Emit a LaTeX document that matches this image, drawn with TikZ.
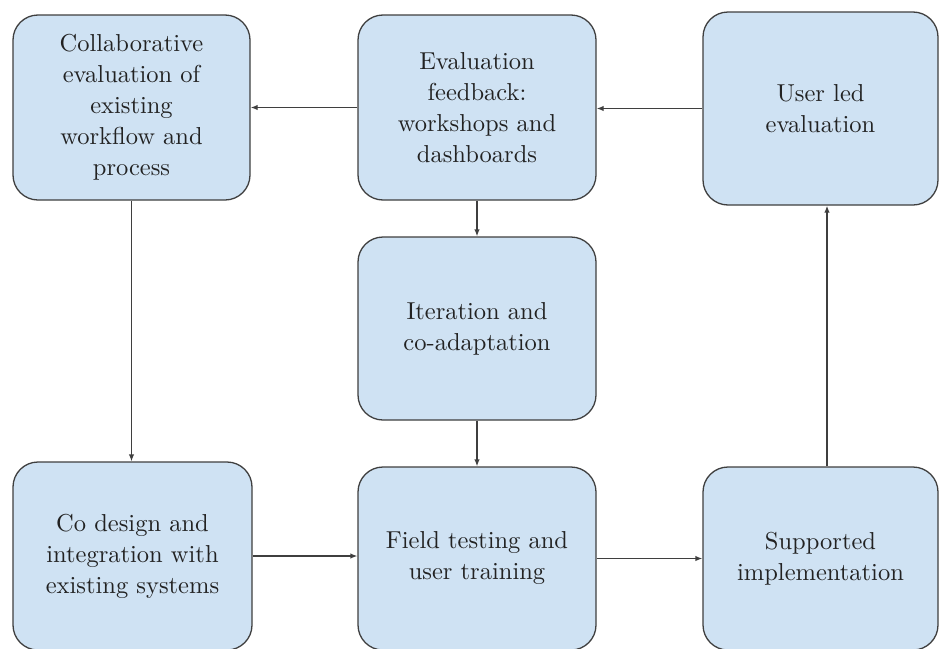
\documentclass[tikz,border=0pt]{standalone}
\usepackage{fontspec}
\setmainfont{lmroman10}[Extension=.otf, UprightFont=*-regular, BoldFont=*-bold]
\usetikzlibrary{arrows.meta}

\definecolor{boxfill}{HTML}{CFE2F3}
\definecolor{boxline}{HTML}{3F3F3F}
\definecolor{boxtext}{HTML}{222222}

\tikzset{
  stagebox/.style={rectangle, rounded corners=25pt, draw=boxline, line width=1.3pt,
    fill=boxfill, text=boxtext, align=center, inner sep=0pt,
    font=\rmfamily\fontsize{24.5}{31}\selectfont},
  flow/.style={draw=boxline, line width=1.3pt, -{Latex[length=7pt,width=5.5pt]}}
}

\begin{document}
\begin{tikzpicture}[x=1pt,y=-1pt]

\clip (0,0) rectangle (941,648);

% top row
\node[stagebox, minimum width=237pt, minimum height=185pt] (collab) at (131.5,107.5)
	{Collaborative\\evaluation of\\existing\\workflow and\\process};
\node[stagebox, minimum width=238pt, minimum height=185pt] (feedback) at (477,107.5)
	{Evaluation\\feedback:\\workshops and\\dashboards};
\node[stagebox, minimum width=235pt, minimum height=193pt] (userled) at (820.5,108.5)
	{User led\\evaluation};

% middle
\node[stagebox, minimum width=238pt, minimum height=183pt] (iterate) at (477,328.5)
	{Iteration and\\co-adaptation};

% bottom row
\node[stagebox, minimum width=239pt, minimum height=188pt] (codesign) at (132.5,556)
	{Co design and\\integration with\\existing systems};
\node[stagebox, minimum width=238pt, minimum height=183pt] (fieldtest) at (477,558.5)
	{Field testing and\\user training};
\node[stagebox, minimum width=235pt, minimum height=183pt] (support) at (820.5,558.5)
	{Supported\\implementation};

% arrows
\draw[flow] (feedback.west) -- (collab.east);
\draw[flow] (userled.west) -- (userled.west -| feedback.east);
\draw[flow] (collab.south) -- (collab.south |- codesign.north);
\draw[flow] (feedback.south) -- (iterate.north);
\draw[flow] (iterate.south) -- (fieldtest.north);
\draw[flow] (codesign.east) -- (codesign.east -| fieldtest.west);
\draw[flow] (fieldtest.east) -- (support.west);
\draw[flow] ([xshift=6.5pt]support.north) -- ([xshift=6.5pt]support.north |- userled.south);

\end{tikzpicture}
\end{document}
